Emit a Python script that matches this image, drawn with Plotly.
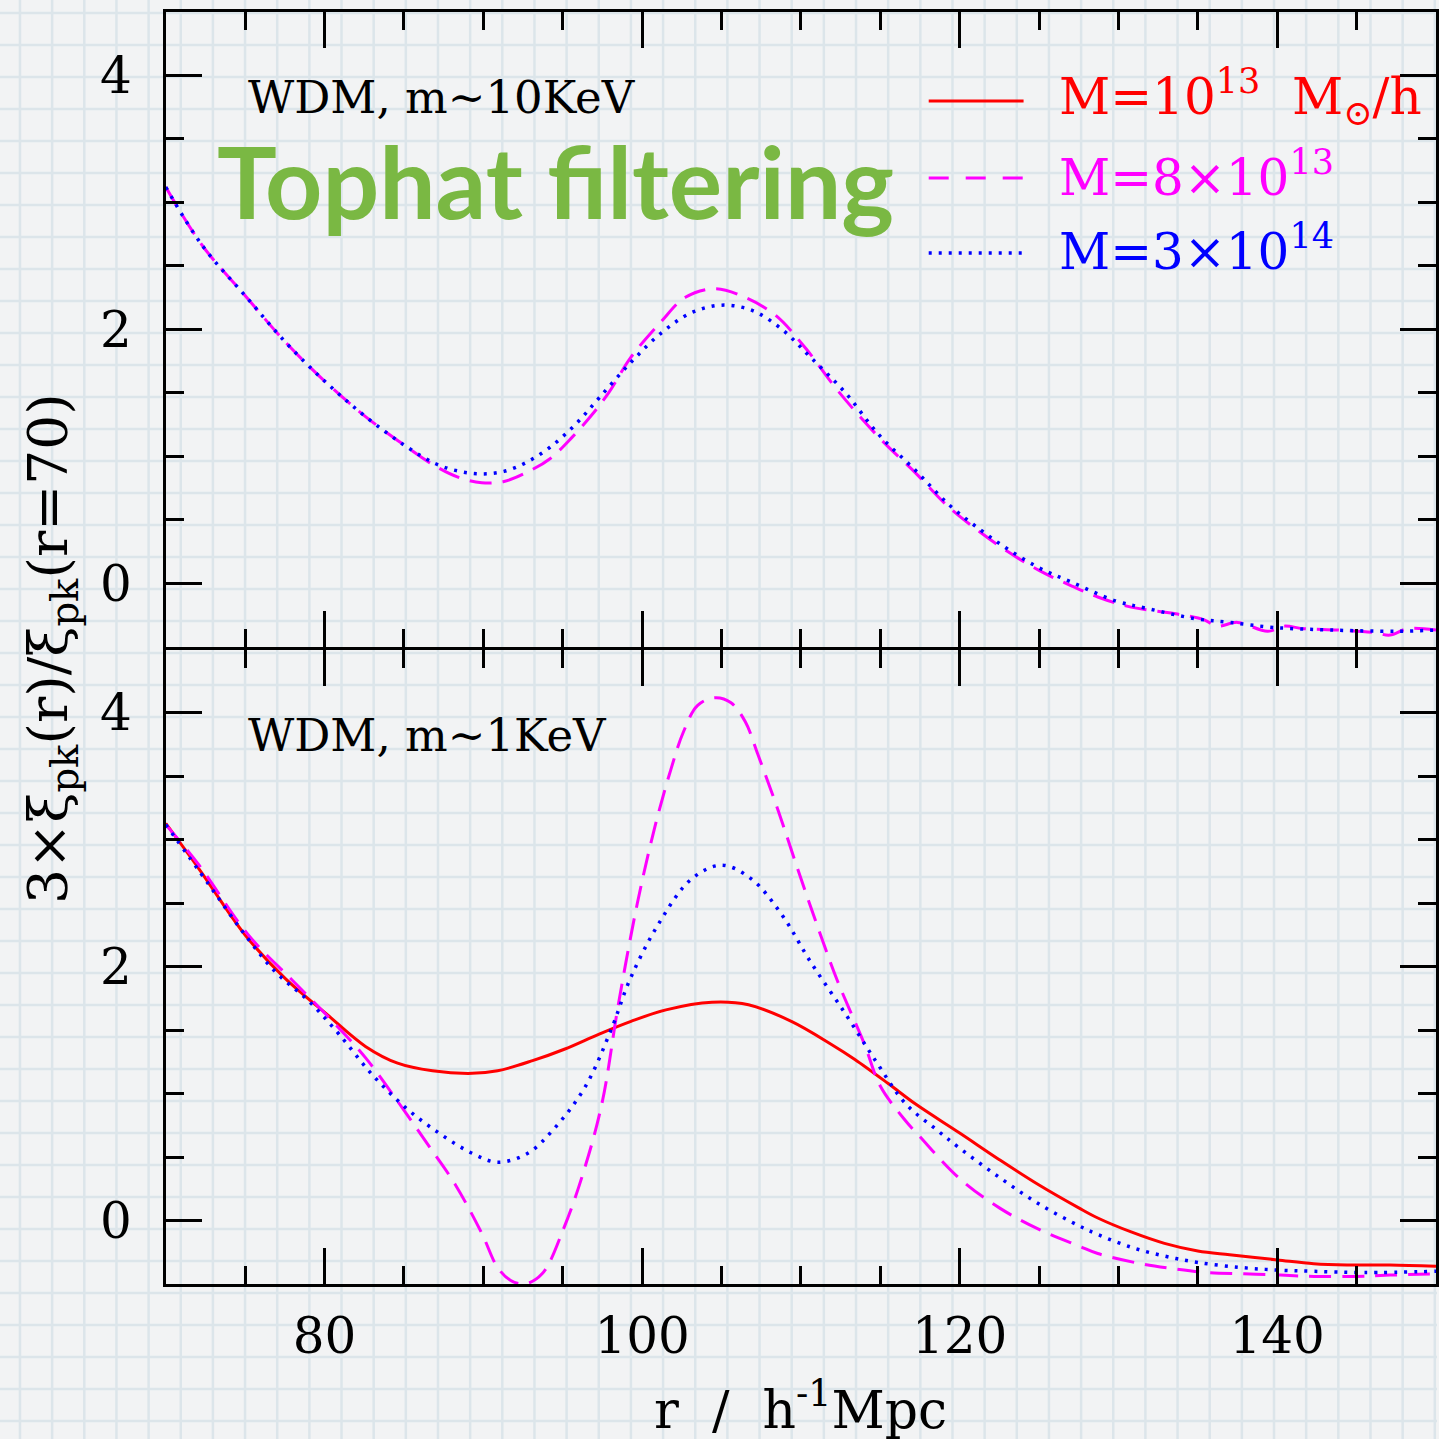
import plotly.graph_objects as go

W = H = 1439

# ---------------- data ----------------
# Upper panel: WDM, m~10KeV
r_top_m8 = [70, 72.3, 75.1, 77.6, 80.1, 82.6, 85.1, 87.0, 88.5, 89.9, 91.3, 92.7, 94.2, 95.6,
            96.8, 97.9, 99.3, 101.2, 102.7, 104.6, 106.5, 108.4, 110.3, 112.3, 114.9, 117.2,
            119.3, 121.3, 123.0, 125.0, 127.0, 128.7, 130.8, 133.5, 135.4, 136.2, 137.5, 139.4,
            140.4, 141.7, 143.8, 146.1, 147.1, 148.2, 150]
xi_top_m8 = [3.12, 2.66, 2.25, 1.89, 1.58, 1.31, 1.08, 0.92, 0.83, 0.79, 0.80, 0.87, 0.98, 1.15,
             1.32, 1.50, 1.78, 2.06, 2.25, 2.32, 2.25, 2.11, 1.85, 1.52, 1.15, 0.87,
             0.60, 0.40, 0.25, 0.10, -0.02, -0.11, -0.19, -0.24, -0.29, -0.34, -0.31, -0.38,
             -0.34, -0.36, -0.37, -0.39, -0.41, -0.36, -0.37]

r_top_m300 = [70, 72.3, 75.1, 77.6, 80.1, 82.6, 85.1, 87.0, 88.5, 89.9, 91.3, 92.7, 94.2, 95.8,
              97.3, 99.3, 101.2, 103.1, 105.0, 106.9, 108.8, 110.6, 112.8, 114.9, 117.2, 119.3,
              121.3, 123.0, 125.0, 127.0, 129.8, 131.8, 134.8, 137.0, 139.8, 143.3, 147.5, 150]
xi_top_m300 = [3.12, 2.66, 2.25, 1.89, 1.58, 1.31, 1.08, 0.94, 0.88, 0.86, 0.88, 0.95, 1.07, 1.25,
               1.46, 1.74, 1.97, 2.13, 2.19, 2.15, 2.00, 1.78, 1.50, 1.17, 0.89, 0.62,
               0.42, 0.27, 0.12, 0.01, -0.14, -0.20, -0.28, -0.31, -0.35, -0.37, -0.38, -0.37]

# Lower panel: WDM, m~1KeV
r_bot_m10 = [70, 72.1, 75.0, 77.5, 80.1, 82.6, 84.6, 86.8, 89.3, 90.9, 93.1, 95.1, 97.3, 99.3,
             101.5, 104.4, 106.7, 109.4, 111.9, 113.4, 115.5, 117.2, 120.0, 122.5, 125.0, 127.5,
             128.7, 130.8, 132.9, 135.0, 137.0, 140.0, 142.3, 144.4, 147.1, 150]
xi_bot_m10 = [3.13, 2.77, 2.25, 1.91, 1.63, 1.37, 1.24, 1.18, 1.16, 1.18, 1.26, 1.35, 1.47, 1.57,
              1.66, 1.72, 1.70, 1.57, 1.39, 1.27, 1.08, 0.92, 0.69, 0.48, 0.28, 0.10,
              0.02, -0.09, -0.18, -0.24, -0.27, -0.31, -0.34, -0.35, -0.35, -0.36]

r_bot_m8 = [70, 72.1, 75.2, 78.0, 80.5, 82.6, 84.6, 86.5, 88.2, 89.9, 90.9, 91.7, 92.6, 93.7,
            95.1, 96.4, 97.5, 98.5, 99.7, 100.8, 101.8, 102.6, 103.5, 104.6, 105.6, 106.5,
            107.3, 108.6, 109.8, 111.1, 112.3, 114.0, 115.0, 116.5, 117.5, 120.0, 122.5, 125.0,
            127.5, 128.7, 131.4, 133.5, 135.6, 137.9, 140.2, 142.3, 145.0, 147.1, 150]
xi_bot_m8 = [3.12, 2.80, 2.25, 1.89, 1.57, 1.28, 0.94, 0.60, 0.29, -0.10, -0.37, -0.47, -0.50, -0.42,
             -0.05, 0.42, 0.94, 1.70, 2.50, 3.10, 3.55, 3.85, 4.06, 4.12, 4.08, 3.93,
             3.67, 3.22, 2.77, 2.30, 1.89, 1.39, 1.06, 0.80, 0.66, 0.33, 0.10, -0.07,
             -0.20, -0.26, -0.34, -0.38, -0.41, -0.42, -0.43, -0.44, -0.44, -0.43, -0.42]

r_bot_m300 = [70, 72.7, 75.0, 76.9, 79.0, 80.9, 83.0, 85.1, 87.2, 89.3, 90.9, 92.8, 94.5, 96.4,
              98.1, 99.2, 101.0, 103.1, 105.0, 106.9, 108.8, 110.6, 112.8, 114.7, 116.6, 118.5,
              120.0, 122.5, 125.0, 127.5, 128.7, 130.8, 132.9, 135.0, 137.7, 140.0, 142.3, 145.5, 150]
xi_bot_m300 = [3.12, 2.65, 2.25, 1.96, 1.73, 1.47, 1.15, 0.89, 0.69, 0.53, 0.46, 0.53, 0.73, 1.05,
               1.52, 1.89, 2.33, 2.69, 2.80, 2.69, 2.41, 2.04, 1.63, 1.26, 0.92, 0.72,
               0.57, 0.34, 0.13, -0.04, -0.11, -0.21, -0.28, -0.33, -0.37, -0.39, -0.40, -0.41, -0.40]

legend_labels = ["M=10<sup>13</sup>\u00a0 M<sub>⊙</sub>/h", "M=8×10<sup>13</sup>", "M=3×10<sup>14</sup>"]
panel_labels = ["WDM, m~10KeV", "WDM, m~1KeV"]

# ---------------- styles ----------------
RED, MAGENTA, BLUE = "#ff0000", "#ff00ff", "#0000ff"
SERIF = "DejaVu Serif"
line_solid = dict(color=RED, width=3)
line_dash = dict(color=MAGENTA, width=3, dash="22px,11px")
line_dot = dict(color=BLUE, width=3.5, dash="3px,7px")


def px_x(p):
    return p / W


def px_y(p):
    return 1 - p / H


fig = go.Figure()

fig.add_trace(go.Scatter(x=r_top_m8, y=xi_top_m8, mode="lines", line=line_dash,
                         line_shape="spline", xaxis="x", yaxis="y"))
fig.add_trace(go.Scatter(x=r_top_m300, y=xi_top_m300, mode="lines", line=line_dot,
                         line_shape="spline", xaxis="x", yaxis="y"))

fig.add_trace(go.Scatter(x=r_bot_m10, y=xi_bot_m10, mode="lines", line=line_solid,
                         line_shape="spline", xaxis="x2", yaxis="y2"))
fig.add_trace(go.Scatter(x=r_bot_m8, y=xi_bot_m8, mode="lines", line=line_dash,
                         line_shape="spline", xaxis="x2", yaxis="y2"))
fig.add_trace(go.Scatter(x=r_bot_m300, y=xi_bot_m300, mode="lines", line=line_dot,
                         line_shape="spline", xaxis="x2", yaxis="y2"))


def xaxis_cfg(show_labels, anchor):
    return dict(
        range=[70, 150], tick0=0, dtick=20, anchor=anchor,
        domain=[px_x(166), px_x(1438)],
        ticks="inside", ticklen=36, tickwidth=3, tickcolor="black",
        showline=True, linewidth=3, linecolor="black", mirror="ticks",
        showgrid=False, zeroline=False, showticklabels=show_labels,
        ticklabelstandoff=6,
        tickfont=dict(family=SERIF, size=50, color="black"),
        minor=dict(dtick=5, tick0=0, ticks="inside", ticklen=18, tickwidth=3,
                   tickcolor="black", showgrid=False),
    )


def yaxis_cfg(domain, anchor):
    return dict(
        range=[-0.5, 4.5], tick0=0, dtick=2, anchor=anchor, domain=domain,
        ticks="inside", ticklen=36, tickwidth=3, tickcolor="black",
        showline=True, linewidth=3, linecolor="black", mirror="ticks",
        showgrid=False, zeroline=False,
        ticklabelstandoff=21,
        tickfont=dict(family=SERIF, size=50, color="black"),
        minor=dict(dtick=0.5, tick0=0, ticks="inside", ticklen=18, tickwidth=3,
                   tickcolor="black", showgrid=False),
    )


# graph-paper background
shapes = []
GRID = dict(color="#dce5ea", width=2.5)
k = 0
while 20 + 32.2 * k < W:
    xp = px_x(20 + 32.2 * k)
    shapes.append(dict(type="line", xref="paper", yref="paper", x0=xp, x1=xp, y0=0, y1=1,
                       line=GRID, layer="below"))
    k += 1
k = 0
while 13 + 32.0 * k < H:
    yp = px_y(13 + 32.0 * k)
    shapes.append(dict(type="line", xref="paper", yref="paper", x0=0, x1=1, y0=yp, y1=yp,
                       line=GRID, layer="below"))
    k += 1

# legend samples
legend_rows = [(101, line_solid), (178, dict(color=MAGENTA, width=3, dash="20px,17px")),
               (253, dict(color=BLUE, width=3.5, dash="3px,7px"))]
for ypix, ln in legend_rows:
    shapes.append(dict(type="line", xref="paper", yref="paper",
                       x0=px_x(930), x1=px_x(1025), y0=px_y(ypix), y1=px_y(ypix), line=ln))

annotations = []
for (ypix, _), label, col in zip(legend_rows, legend_labels, [RED, MAGENTA, BLUE]):
    annotations.append(dict(text=label, xref="paper", yref="paper", x=px_x(1058), y=px_y(ypix - 4),
                            xanchor="left", yanchor="middle", showarrow=False,
                            font=dict(family=SERIF, size=50, color=col)))

annotations.append(dict(text=panel_labels[0], xref="paper", yref="paper", x=px_x(246), y=px_y(98),
                        xanchor="left", yanchor="middle", showarrow=False,
                        font=dict(family=SERIF, size=45, color="black")))
annotations.append(dict(text=panel_labels[1], xref="paper", yref="paper", x=px_x(246), y=px_y(735),
                        xanchor="left", yanchor="middle", showarrow=False,
                        font=dict(family=SERIF, size=45, color="black")))

annotations.append(dict(text="Tophat filtering", xref="paper", yref="paper", x=px_x(556), y=px_y(180),
                        xanchor="center", yanchor="middle", showarrow=False,
                        font=dict(family="Lato", size=100, color="#7ab843", weight="bold")))

annotations.append(dict(text="3×ξ<sub>pk</sub>(r)/ξ<sub>pk</sub>(r=70)", xref="paper", yref="paper",
                        x=px_x(52), y=px_y(648), xanchor="center", yanchor="middle",
                        textangle=-90, showarrow=False,
                        font=dict(family=SERIF, size=55, color="black")))
annotations.append(dict(text="r\u00a0\u00a0/\u00a0\u00a0h<sup>-1</sup>Mpc", xref="paper", yref="paper",
                        x=px_x(802), y=px_y(1406), xanchor="center", yanchor="middle",
                        showarrow=False, font=dict(family=SERIF, size=52, color="black")))

# the shared border between the panels: both axis lines sit on the same pixel row
fig.update_layout(
    width=W, height=H, margin=dict(l=0, r=0, t=0, b=0),
    paper_bgcolor="#f2f3f4", plot_bgcolor="rgba(0,0,0,0)",
    showlegend=False,
    xaxis=xaxis_cfg(False, "y"),
    yaxis=yaxis_cfg([px_y(646.5), px_y(12)], "x"),
    xaxis2=xaxis_cfg(True, "y2"),
    yaxis2=yaxis_cfg([px_y(1284), px_y(649.5)], "x2"),
    shapes=shapes,
    annotations=annotations,
)

fig.write_html("out.html")
